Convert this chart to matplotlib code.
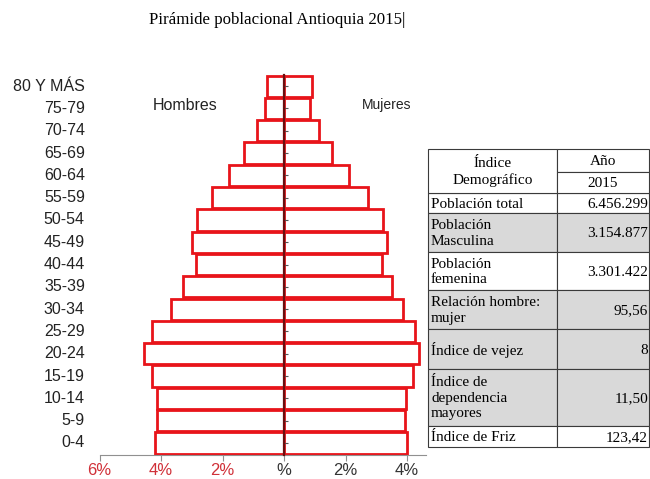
import matplotlib

matplotlib.use("Agg")
import matplotlib.pyplot as plt  # noqa: E402
from matplotlib.patches import Rectangle  # noqa: E402

# age groups, bottom to top
GROUPS = ["0-4", "5-9", "10-14", "15-19", "20-24", "25-29", "30-34", "35-39",
          "40-44", "45-49", "50-54", "55-59", "60-64", "65-69", "70-74",
          "75-79", "80 Y MÁS"]
# % of total population
MEN = [4.18, 4.14, 4.14, 4.30, 4.54, 4.28, 3.67, 3.27, 2.86, 2.99, 2.84,
       2.34, 1.80, 1.29, 0.87, 0.61, 0.56]
WOMEN = [4.01, 3.93, 3.97, 4.20, 4.40, 4.26, 3.88, 3.52, 3.18, 3.34, 3.21,
         2.72, 2.10, 1.57, 1.13, 0.85, 0.90]
XTICKS = [-6, -4, -2, 0, 2, 4]
XLABELS = ["6%", "4%", "2%", "%", "2%", "4%"]

# side table
TAB_NAMES = ["Población total", "Población\nMasculina", "Población\nfemenina",
             "Relación hombre:\nmujer", "Índice de vejez",
             "Índice de\ndependencia\nmayores", "Índice de Friz"]
TAB_VALUES = ["6.456.299", "3.154.877", "3.301.422", "95,56", "8", "11,50",
              "123,42"]
TAB_SHADED = [False, True, False, True, True, True, False]

RED = "#e8141a"
SERIF = "Liberation Serif"
SANS = "Liberation Sans"

fig = plt.figure(figsize=(6.5, 4.79), dpi=100)
ax = fig.add_axes([99.5 / 650, 24 / 479, 326 / 650, 380 / 479])
y = list(range(len(GROUPS)))
ax.barh(y, [-m for m in MEN], height=0.95, color="white", edgecolor=RED,
        linewidth=2.0)
ax.barh(y, WOMEN, height=0.95, color="white", edgecolor=RED, linewidth=2.0)
ax.set_xlim(-6, 4.6)
ax.set_ylim(-0.54, 16.5)

for s in ["top", "right"]:
    ax.spines[s].set_visible(False)
ax.spines["bottom"].set_color("#909090")
ax.spines["left"].set_position(("data", 0))
ax.spines["left"].set_color("#6a1010")
ax.spines["left"].set_linewidth(1.6)
ax.spines["left"].set_zorder(5)
ax.set_yticks(y)
ax.tick_params(axis="y", direction="in", length=3, color="#555555",
               labelleft=False)
ax.set_xticks(XTICKS)
ax.set_xticklabels(XLABELS, family=SANS, fontsize=12)
ax.tick_params(axis="x", length=4, color="#909090", pad=2)
for t, v in zip(ax.get_xticklabels(), XTICKS):
    t.set_color("#d03038" if v < 0 else "#333333")
for yi, g in zip(y, GROUPS):
    ax.text(-0.045, yi, g, transform=ax.get_yaxis_transform(), ha="right",
            va="center", family=SANS, fontsize=11.5, color="#222222")

fig.text(277 / 650, 1 - 20 / 479, "Pirámide poblacional Antioquia 2015|",
         ha="center", va="center", family=SERIF, fontsize=12.2)
fig.text(153 / 650, 1 - 105 / 479, "Hombres", ha="left", va="center",
         family=SANS, fontsize=11.5, color="#222222")
fig.text(362 / 650, 1 - 105 / 479, "Mujeres", ha="left", va="center",
         family=SANS, fontsize=10, color="#222222")

# table drawn in pixel coordinates on an overlay axes
tx = fig.add_axes([0, 0, 1, 1])
tx.set_xlim(0, 650)
tx.set_ylim(479, 0)
tx.axis("off")
x0, xm, x1 = 428, 557, 649
edges = [149, 193, 213, 252, 290, 329, 369, 426, 447]
lc, lw = "#3a3a3a", 0.8
for i, (name, val, sh) in enumerate(zip(TAB_NAMES, TAB_VALUES, TAB_SHADED)):
    top, bot = edges[i + 1], edges[i + 2]
    fc = "#d9d9d9" if sh else "white"
    tx.add_patch(Rectangle((x0, top), xm - x0, bot - top, fc=fc, ec=lc, lw=lw))
    tx.add_patch(Rectangle((xm, top), x1 - xm, bot - top, fc=fc, ec=lc, lw=lw))
    tx.text(x0 + 3, (top + bot) / 2 + 1, name, ha="left", va="center",
            family=SERIF, fontsize=11, linespacing=1.25)
    tx.text(x1 - 1, (top + bot) / 2 + 1, val, ha="right", va="center",
            family=SERIF, fontsize=11)
# header
tx.add_patch(Rectangle((x0, edges[0]), xm - x0, edges[1] - edges[0], fc="white",
                       ec=lc, lw=lw))
tx.add_patch(Rectangle((xm, edges[0]), x1 - xm, 172 - edges[0], fc="white",
                       ec=lc, lw=lw))
tx.add_patch(Rectangle((xm, 172), x1 - xm, edges[1] - 172, fc="white",
                       ec=lc, lw=lw))
tx.text((x0 + xm) / 2, (edges[0] + edges[1]) / 2 + 1, "Índice\nDemográfico",
        ha="center", va="center", family=SERIF, fontsize=11, linespacing=1.3)
tx.text((xm + x1) / 2, (edges[0] + 172) / 2 + 1, "Año", ha="center",
        va="center", family=SERIF, fontsize=11)
tx.text((xm + x1) / 2, (172 + edges[1]) / 2 + 1, "2015", ha="center",
        va="center", family=SERIF, fontsize=11)

fig.savefig("out.png", dpi=100)
